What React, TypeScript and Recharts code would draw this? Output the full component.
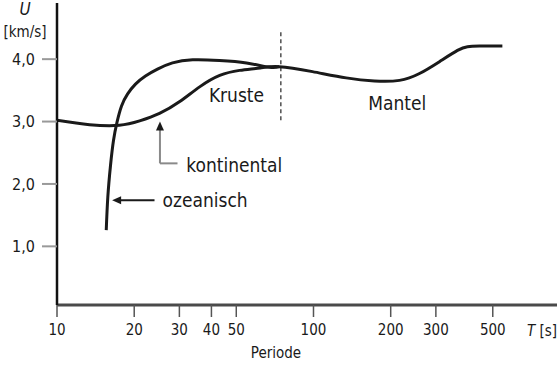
import { LineChart, Line, XAxis, YAxis, ReferenceLine, ReferenceDot } from "recharts";

// Periode T [s] and group velocity U [km/s]
const oceanicT = [15.56, 15.78, 16.17, 16.61, 17.14, 17.85, 18.83, 20.23, 22.13, 24.65, 28.2, 33.8, 43.0, 54.8, 67.4, 73.6];
const oceanicU = [1.26, 1.79, 2.3, 2.7, 2.99, 3.25, 3.44, 3.6, 3.73, 3.84, 3.94, 3.99, 3.98, 3.94, 3.87, 3.88];

const continentalT = [10.0, 13.4, 17.5, 21.0, 25.1, 30.1, 36.1, 43.1, 51.5, 62.0, 73.6];
const continentalU = [3.02, 2.95, 2.94, 3.01, 3.13, 3.32, 3.56, 3.74, 3.82, 3.86, 3.88];

const mantleT = [73.6, 99.1, 134.1, 172.9, 216.4, 259, 309.8, 364.3, 398.5, 443.8, 545];
const mantleU = [3.88, 3.8, 3.7, 3.65, 3.66, 3.77, 3.96, 4.14, 4.2, 4.21, 4.21];

const xTicks = [10, 20, 30, 40, 50, 100, 200, 300, 400, 500];
const yTicks = [1, 2, 3, 4];

const toPoints = (ts: number[], us: number[]) => ts.map((T, i) => ({ T, U: us[i] }));
const oceanic = toPoints(oceanicT, oceanicU);
const continental = toPoints(continentalT, continentalU).concat(toPoints(mantleT, mantleU).slice(1));

const FONT = "'DejaVu Sans Condensed', 'Liberation Sans Narrow', 'DejaVu Sans', sans-serif";
const INK = "#1a1a1a";

const textShape = (value: string, anchor: "start" | "middle" = "middle") => (props: any) => (
  <text
    x={props.cx}
    y={props.cy}
    textAnchor={anchor}
    dominantBaseline="central"
    fontFamily={FONT}
    fontSize={19}
    fill={INK}
  >
    {value}
  </text>
);

const arrowUp = (props: any) => (
  <path d={`M${props.cx},${props.cy} l-4,9 l8,0 z`} fill={INK} />
);
const arrowLeft = (props: any) => (
  <path d={`M${props.cx},${props.cy} l9,-4 l0,8 z`} fill={INK} />
);

export default function App() {
  return (
    <div style={{ position: "absolute", left: 0, top: 0, width: 560, height: 369, background: "#fff" }}>
      <LineChart width={560} height={369} margin={{ top: 3, right: 3, bottom: 0, left: 0 }}>
        <XAxis
          type="number"
          dataKey="T"
          scale="log"
          domain={[10, 890]}
          ticks={xTicks}
          allowDataOverflow
          height={64}
          tickSize={12}
          tickMargin={7}
          axisLine={{ stroke: "#4a4a4a", strokeWidth: 3 }}
          tickLine={{ stroke: "#555", strokeWidth: 1.5 }}
          tick={{ fill: INK, fontSize: 15, fontFamily: FONT }}
        />
        <YAxis
          type="number"
          dataKey="U"
          domain={[0.06, 4.9]}
          ticks={yTicks}
          allowDataOverflow
          width={57}
          tickSize={15}
          tickMargin={7}
          tickFormatter={(v: number) => v.toFixed(1).replace(".", ",")}
          axisLine={{ stroke: "#111", strokeWidth: 2.5 }}
          tickLine={{ stroke: "#999", strokeWidth: 2 }}
          tick={{ fill: INK, fontSize: 16, fontFamily: FONT }}
        />

        {/* Grenze Kruste / Mantel */}
        <ReferenceLine
          segment={[{ x: 74.6, y: 3.02 }, { x: 74.6, y: 4.46 }]}
          stroke="#333"
          strokeWidth={1.3}
          strokeDasharray="4 3"
        />

        <Line data={continental} dataKey="U" type="natural" stroke={INK} strokeWidth={3} dot={false} isAnimationActive={false} />
        <Line data={oceanic} dataKey="U" type="natural" stroke={INK} strokeWidth={3} dot={false} isAnimationActive={false} />

        {/* Pfeil kontinental */}
        <ReferenceLine segment={[{ x: 25.2, y: 2.9 }, { x: 25.2, y: 2.33 }]} stroke="#8a8a8a" strokeWidth={2} />
        <ReferenceLine segment={[{ x: 25.2, y: 2.33 }, { x: 29.5, y: 2.33 }]} stroke="#8a8a8a" strokeWidth={2} />
        <ReferenceDot x={25.2} y={3.0} shape={arrowUp} />

        {/* Pfeil ozeanisch */}
        <ReferenceLine segment={[{ x: 17.0, y: 1.74 }, { x: 24.0, y: 1.74 }]} stroke={INK} strokeWidth={2} />
        <ReferenceDot x={16.4} y={1.74} shape={arrowLeft} />

        <ReferenceDot x={50.1} y={3.42} shape={textShape("Kruste")} />
        <ReferenceDot x={212} y={3.3} shape={textShape("Mantel")} />
        <ReferenceDot x={31.9} y={2.3} shape={textShape("kontinental", "start")} />
        <ReferenceDot x={25.8} y={1.74} shape={textShape("ozeanisch", "start")} />

        {/* Achsenbeschriftungen */}
        <text x={25} y={15} textAnchor="middle" fontFamily={FONT} fontSize={17} fontStyle="italic" fill={INK}>U</text>
        <text x={25} y={37} textAnchor="middle" fontFamily={FONT} fontSize={15} fill={INK}>[km/s]</text>
        <text x={557} y={336} textAnchor="end" fontFamily={FONT} fontSize={15} fill={INK}>
          <tspan fontStyle="italic">T</tspan> [s]
        </text>
        <text x={276} y={358} textAnchor="middle" fontFamily={FONT} fontSize={15} fill={INK}>Periode</text>
      </LineChart>
    </div>
  );
}
